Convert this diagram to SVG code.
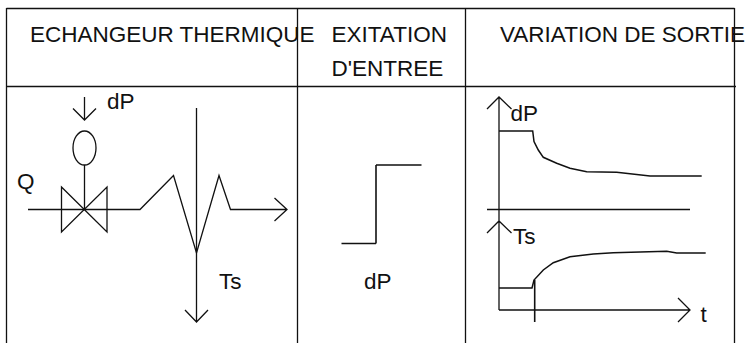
<svg xmlns="http://www.w3.org/2000/svg" width="747" height="343" viewBox="0 0 747 343">
<style>
.l{fill:none;stroke:#111;stroke-width:1.3;stroke-linejoin:miter}
.c{stroke-width:1.500}
text{font-family:"Liberation Sans",Arial,sans-serif;font-size:22.500px;fill:#111}
</style>
<rect width="747" height="343" fill="#fff"/>
<g id="table">
<path class="l" d="M6.500 8.500H734.500M6 86.500H736M6.500 8V343M297.500 8V343M465.500 8V343M734.500 8V343"/>
</g>
<g id="headers">
<text x="30" y="42">ECHANGEUR THERMIQUE</text>
<text x="331.500" y="42">EXITATION</text>
<text x="331.500" y="75.500">D'ENTREE</text>
<text x="500" y="42">VARIATION DE SORTIE</text>
</g>
<g id="valve">
<ellipse class="l" cx="84.500" cy="148" rx="11.500" ry="17"/>
<path class="l" d="M84.500 165V209M61.500 187L107 232V187L61.500 232Z"/>
<text x="107" y="109">dP</text>
<text x="17" y="188.500">Q</text>
</g>
<g id="exchanger">
<text x="219" y="289">Ts</text>
</g>
<g id="step">
<path class="l" d="M341.500 243.500H376M421.500 165H376"/>
<path class="l" d="M376 243.500V165" style="stroke-width:1.600"/>
<text x="364" y="289">dP</text>
</g>
<g id="response">
<text x="510.500" y="120.500">dP</text>
<text x="513" y="243.500">Ts</text>
<text x="700.500" y="322">t</text>
</g>
<g id="connectors">
<path class="l" d="M84.500 97V120M73 108.500L84.500 120L96 108.500"/>
<path class="l" d="M28 209.500H140L173.500 175.500L196.500 253L219 175.500L230.500 209.500H287M274.500 198L287 209.500L274.500 221"/>
<path class="l" d="M196.500 108V322M185 310L196.500 322L208 310"/>
<path class="l" d="M499 310V97M487 109L499 97L511.500 109M487 233L499 221L511.500 233"/>
<path class="l" d="M499 310H690M678 298L690 310L678 322M487 209.500H690"/>
<path class="l c" d="M499 131H532.700L534 141.500L538.300 150L543.300 157.300L556.700 163.300L570 168.300L586.700 171.700L616.700 172.300L650 176H701.700"/>
<path class="l c" d="M499 288H532L534 280L543.300 270L553.300 262.700L570 256.700L593.300 254L613.300 252.700L666.700 251.300L676.700 253H705.700"/>
<path class="l" d="M534.700 280V322" style="stroke-width:1.600"/>
</g>
</svg>
